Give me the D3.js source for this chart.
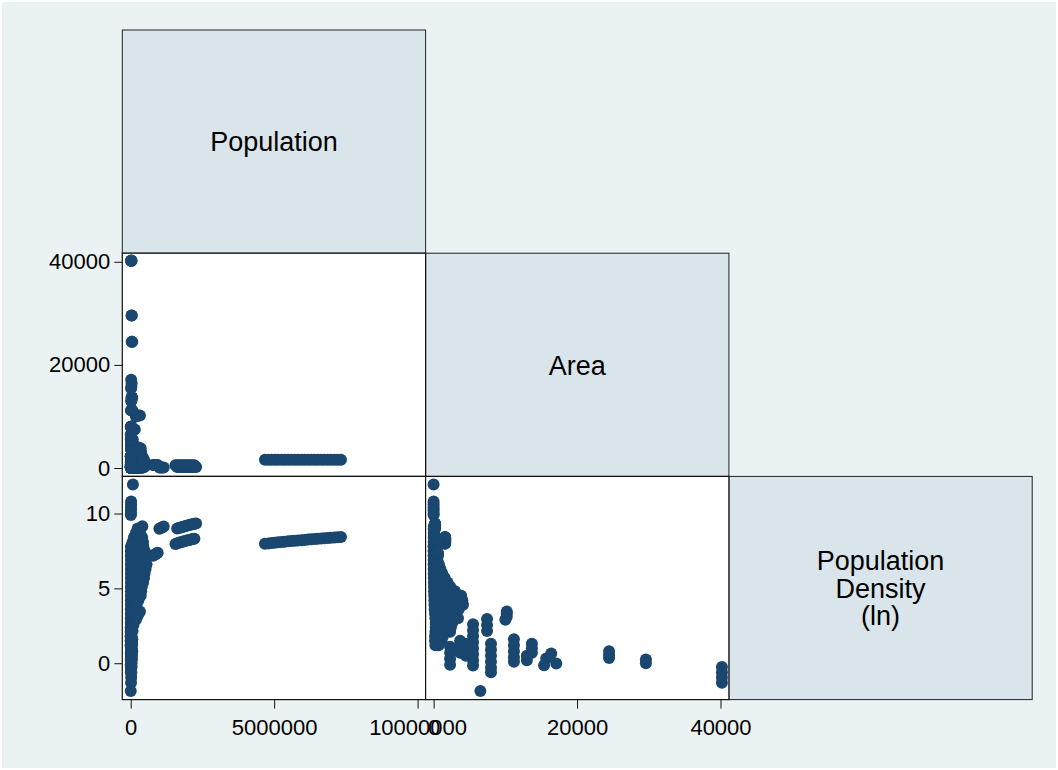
<!DOCTYPE html>
<html><head><meta charset="utf-8">
<script src="https://cdn.jsdelivr.net/npm/d3@7"></script>
<style>body{margin:0;background:#fff}svg{display:block}</style>
</head><body>
<svg id="c" width="1058" height="770"></svg>
<script>
// ---- Data ----
const variableLabels = [["Population"], ["Area"], ["Population", "Density", "(ln)"]];

const population = [
  77000, 14700, 12000, 9900, 8100, 6600, 6000,
  405000, 243000, 308000,
  180000, 330000,
  111000, 222000, 400000,
  66000, 165000, 296000, 428000,
  10000, 37000, 98000, 195000, 317000, 439000,
  5000, 36000, 108000, 217000, 362000, 488000,
  7000, 54000, 134000, 268000, 402000, 495000,
  8000, 60000, 149000, 278000, 417000, 516000,
  7000, 59000, 147000, 279000, 412000, 551000,
  8000, 65000, 164000, 283000, 409000, 518000,
  8000, 60000, 161000, 282000, 403000, 484000,
  9000, 75000, 179000, 299000, 419000, 463000,
  9000, 66000, 177000, 287000, 398000, 431000,
  8000, 66000, 164000, 262000, 361000, 385000,
  7000, 61000, 146000, 243000, 340000, 365000,
  7000, 54000, 135000, 225000, 297000, 347000,
  7000, 47000, 107000, 173000, 233000, 267000,
  6000, 40000, 89000, 138000, 178000, 203000,
  5000, 33000, 66000, 99000, 128000,
  5000, 27000, 54000, 81000,
  5000, 18000, 36000, 56000, 68000,
  4000, 15000, 27000, 39000,
  3000, 10000, 18000, 26000,
  2000, 7000, 12000, 19000,
  1000, 4000, 8000,
  1000, 3000, 5000,
  1000, 2000,
  // city with area ~1600
  4680000, 4800000, 4910000, 5030000, 5140000, 5260000, 5370000, 5490000, 5600000, 5720000, 5830000, 5950000,
  6060000, 6180000, 6290000, 6410000, 6520000, 6640000, 6750000, 6870000, 6980000, 7100000, 7210000, 7330000,
  // city with area ~200
  1620000, 1680000, 1740000, 1800000, 1860000, 1920000, 1980000, 2040000, 2100000, 2160000, 2220000, 2280000,
  // city with area ~540
  1560000, 1620000, 1680000, 1740000, 1800000, 1860000, 1920000, 1980000, 2040000, 2100000, 2160000, 2220000,
  // city with area ~125
  1000000, 1050000, 1100000, 1150000,
  // city with area ~590
  780000, 820000, 860000, 900000, 940000,
  // large-area, low-density places
  6900, 4600, 3100, 2100,
  16600, 11100, 7400, 16500, 11100, 7400,
  74000, 50000, 33000, 22000, 15000, 10000, 6700, 4700,
  142000, 95000, 64000,
  29400, 19700, 13200, 8800, 5900, 4400,
  321000, 276000, 226000, 182000,
  55000, 37000, 25000, 16700, 12400,
  50000, 37000, 27600, 21400, 15900,
  21000, 31000, 16800, 13500,
  54000, 42000, 35000,
  38000, 29600,
  31000, 22000, 15600, 11000,
  1000
];

const area = [
  0.5, 0.3, 0.3, 0.3, 0.3, 0.3, 0.3,
  43, 30, 40,
  30, 55,
  25, 50, 90,
  20, 50, 90, 130,
  4, 15, 40, 80, 130, 180,
  3, 20, 60, 120, 200, 270,
  5, 40, 100, 200, 300, 370,
  8, 60, 150, 280, 420, 520,
  10, 80, 200, 380, 560, 750,
  15, 120, 300, 520, 750, 950,
  20, 150, 400, 700, 1000, 1200,
  30, 250, 600, 1000, 1400, 1550,
  40, 300, 800, 1300, 1800, 1950,
  50, 400, 1000, 1600, 2200, 2350,
  60, 500, 1200, 2000, 2800, 3000,
  80, 600, 1500, 2500, 3300, 3850,
  100, 700, 1600, 2600, 3500, 4000,
  120, 800, 1800, 2800, 3600, 4100,
  150, 900, 1800, 2700, 3500,
  200, 1000, 2000, 3000,
  250, 900, 1800, 2800, 3400,
  300, 1000, 1800, 2600,
  300, 900, 1600, 2400,
  250, 800, 1500, 2300,
  200, 700, 1300,
  200, 600, 1100,
  250, 700,
  1600, 1600, 1600, 1600, 1600, 1600, 1600, 1600, 1600, 1600, 1600, 1600,
  1600, 1600, 1600, 1600, 1600, 1600, 1600, 1600, 1600, 1600, 1600, 1600,
  200, 200, 200, 200, 200, 200, 200, 200, 200, 200, 200, 200,
  540, 540, 540, 540, 540, 540, 540, 540, 540, 540, 540, 540,
  125, 125, 125, 125,
  590, 590, 590, 590, 590,
  2300, 2300, 2300, 2300,
  3700, 3700, 3700, 4500, 4500, 4500,
  5500, 5500, 5500, 5500, 5500, 5500, 5500, 5500,
  7450, 7450, 7450,
  8000, 8000, 8000, 8000, 8000, 8000,
  10200, 10200, 10200, 10000,
  11200, 11200, 11200, 11200, 11200,
  13700, 13700, 13700, 13000, 13000,
  15700, 16400, 17100, 15400,
  24466, 24466, 24466,
  29600, 29600,
  40200, 40200, 40200, 40200,
  6520
];

const lnDensity = [
  11.94, 10.8, 10.6, 10.4, 10.2, 10.0, 9.9,
  9.15, 9.0, 8.95,
  8.7, 8.7,
  8.4, 8.4, 8.4,
  8.1, 8.1, 8.1, 8.1,
  7.8, 7.8, 7.8, 7.8, 7.8, 7.8,
  7.5, 7.5, 7.5, 7.5, 7.5, 7.5,
  7.2, 7.2, 7.2, 7.2, 7.2, 7.2,
  6.9, 6.9, 6.9, 6.9, 6.9, 6.9,
  6.6, 6.6, 6.6, 6.6, 6.6, 6.6,
  6.3, 6.3, 6.3, 6.3, 6.3, 6.3,
  6.0, 6.0, 6.0, 6.0, 6.0, 6.0,
  5.7, 5.7, 5.7, 5.7, 5.7, 5.7,
  5.4, 5.4, 5.4, 5.4, 5.4, 5.4,
  5.1, 5.1, 5.1, 5.1, 5.1, 5.1,
  4.8, 4.8, 4.8, 4.8, 4.8, 4.8,
  4.5, 4.5, 4.5, 4.5, 4.5, 4.5,
  4.2, 4.2, 4.2, 4.2, 4.2, 4.2,
  3.9, 3.9, 3.9, 3.9, 3.9, 3.9,
  3.6, 3.6, 3.6, 3.6, 3.6,
  3.3, 3.3, 3.3, 3.3,
  3.0, 3.0, 3.0, 3.0, 3.0,
  2.7, 2.7, 2.7, 2.7,
  2.4, 2.4, 2.4, 2.4,
  2.1, 2.1, 2.1, 2.1,
  1.8, 1.8, 1.8,
  1.5, 1.5, 1.5,
  1.2, 1.2,
  7.981, 8.006, 8.029, 8.053, 8.075, 8.098, 8.119, 8.141, 8.161, 8.182, 8.201, 8.221,
  8.239, 8.259, 8.277, 8.296, 8.313, 8.331, 8.347, 8.365, 8.381, 8.398, 8.413, 8.430,
  9.000, 9.036, 9.071, 9.105, 9.138, 9.170, 9.200, 9.230, 9.259, 9.287, 9.315, 9.341,
  7.969, 8.006, 8.043, 8.078, 8.112, 8.145, 8.176, 8.207, 8.237, 8.266, 8.294, 8.321,
  8.987, 9.036, 9.083, 9.127,
  7.187, 7.237, 7.285, 7.330, 7.374,
  1.1, 0.7, 0.3, -0.1,
  1.5, 1.1, 0.7, 1.3, 0.9, 0.5,
  2.6, 2.2, 1.8, 1.4, 1.0, 0.6, 0.2, -0.15,
  2.95, 2.55, 2.15,
  1.3, 0.9, 0.5, 0.1, -0.3, -0.6,
  3.45, 3.3, 3.1, 2.9,
  1.6, 1.2, 0.8, 0.4, 0.1,
  1.3, 1.0, 0.7, 0.5, 0.2,
  0.31, 0.65, -0.02, -0.13,
  0.8, 0.55, 0.35,
  0.25, 0.0,
  -0.25, -0.6, -0.95, -1.3,
  -1.85
];

const populationTicks = [0, 5000000, 10000000];
const areaTicks = [0, 20000, 40000];
const lnDensityTicks = [0, 5, 10];

// ---- Layout ----
const W = 1058, H = 770;
const colX = [122.3, 425.6, 728.9], cellW = 303.3;
const rowY = [30, 253.2, 476.4], cellH = 223.2;
const FONT = "'Liberation Sans', Arial, Helvetica, sans-serif";
const navy = "#1a476f";

const svg = d3.select("#c");
svg.append("rect").attr("width", W).attr("height", H).attr("fill", "#ffffff");
svg.append("rect").attr("x", 2).attr("y", 2).attr("width", W - 4).attr("height", H - 4).attr("fill", "#eaf2f3");

const popX = d3.scaleLinear().domain([-293000, 10280000]).range([colX[0], colX[0] + cellW]);
const areaX = d3.scaleLinear().domain([-1117, 41172]).range([colX[1], colX[1] + cellW]);
const areaY = d3.scaleLinear().domain([-1623, 41662]).range([rowY[1] + cellH, rowY[1]]);
const lnY = d3.scaleLinear().domain([-2.43, 12.48]).range([rowY[2] + cellH, rowY[2]]);

const data = population.map((p, i) => ({pop: p, area: area[i], ln: lnDensity[i]}));

// Diagonal label boxes
variableLabels.forEach((lines, i) => {
  svg.append("rect").attr("x", colX[i]).attr("y", rowY[i]).attr("width", cellW).attr("height", cellH)
    .attr("fill", "#d9e5ea").attr("stroke", "#222").attr("stroke-width", 1);
  const cx = colX[i] + cellW / 2, cy = rowY[i] + cellH / 2;
  const lh = 27.7;
  const t = svg.append("text").attr("text-anchor", "middle").attr("font-family", FONT)
    .attr("font-size", 27).attr("fill", "#000");
  lines.forEach((ln, k) => {
    t.append("tspan").attr("x", cx)
      .attr("y", cy + (k - (lines.length - 1) / 2) * lh + 9.7).text(ln);
  });
});

// Scatter panels
const panels = [
  {r: 1, c: 0, x: popX, y: areaY, fx: d => d.pop, fy: d => d.area},
  {r: 2, c: 0, x: popX, y: lnY, fx: d => d.pop, fy: d => d.ln},
  {r: 2, c: 1, x: areaX, y: lnY, fx: d => d.area, fy: d => d.ln}
];
panels.forEach(p => {
  svg.append("rect").attr("x", colX[p.c]).attr("y", rowY[p.r]).attr("width", cellW).attr("height", cellH)
    .attr("fill", "#ffffff");
  svg.append("g").selectAll("circle").data(data).join("circle")
    .attr("cx", d => p.x(p.fx(d))).attr("cy", d => p.y(p.fy(d)))
    .attr("r", 6).attr("fill", navy);
  svg.append("rect").attr("x", colX[p.c]).attr("y", rowY[p.r]).attr("width", cellW).attr("height", cellH)
    .attr("fill", "none").attr("stroke", "#111").attr("stroke-width", 1.2);
});

function styleAxis(g) {
  g.select(".domain").remove();
  g.selectAll(".tick line").attr("stroke", "#111").attr("stroke-width", 1);
  g.selectAll(".tick text").attr("font-family", FONT).attr("font-size", 22).attr("fill", "#000");
}
const fmt = d3.format("d");
svg.append("g").attr("transform", `translate(${colX[0]},0)`)
  .call(d3.axisLeft(areaY).tickValues(areaTicks).tickSize(8).tickPadding(4).tickFormat(fmt)).call(styleAxis);
svg.append("g").attr("transform", `translate(${colX[0]},0)`)
  .call(d3.axisLeft(lnY).tickValues(lnDensityTicks).tickSize(8).tickPadding(4).tickFormat(fmt)).call(styleAxis);
svg.append("g").attr("transform", `translate(0,${rowY[2] + cellH})`)
  .call(d3.axisBottom(popX).tickValues(populationTicks).tickSize(9).tickPadding(11).tickFormat(fmt)).call(styleAxis);
svg.append("g").attr("transform", `translate(0,${rowY[2] + cellH})`)
  .call(d3.axisBottom(areaX).tickValues(areaTicks).tickSize(9).tickPadding(11).tickFormat(fmt)).call(styleAxis);
</script>
</body></html>
